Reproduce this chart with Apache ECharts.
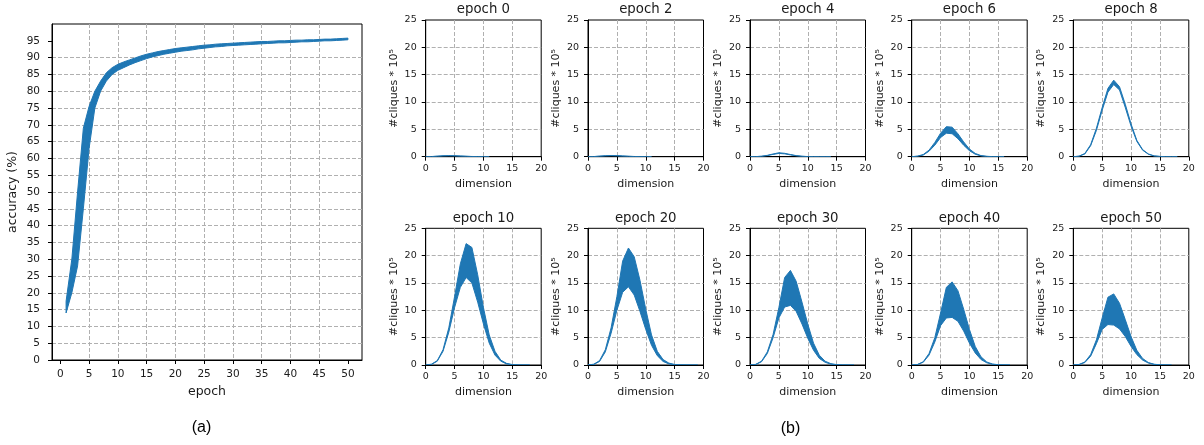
<!DOCTYPE html>
<html><head><meta charset="utf-8">
<script src="https://cdn.jsdelivr.net/npm/echarts@6.0.0/dist/echarts.min.js"></script>
<style>html,body{margin:0;padding:0;background:#fff}#c{width:1204px;height:445px}</style>
</head><body><div id="c"></div>
<script>
// ---------- panel (a): accuracy vs epoch ----------
const epochs = [1,2,3,4,5,6,7,8,9,10,11,12,13,14,15,16,17,18,19,20,21,22,23,24,25,26,27,28,29,30,31,32,33,34,35,36,37,38,39,40,41,42,43,44,45,46,47,48,49,50];
const accUpper = [17.5,30,50,69,75.5,80,83,85.5,87,88,88.7,89.3,89.9,90.5,91,91.4,91.8,92.1,92.4,92.7,92.9,93.1,93.3,93.5,93.7,93.8,94.0,94.1,94.2,94.3,94.4,94.5,94.6,94.7,94.8,94.8,94.9,95.0,95.0,95.1,95.2,95.2,95.3,95.3,95.4,95.5,95.5,95.6,95.7,95.8];
const accLower = [14,20,28,45,63,75,80,83,85,86.2,87,87.8,88.5,89.1,89.7,90.2,90.6,91,91.3,91.6,91.9,92.1,92.3,92.6,92.8,93.0,93.2,93.3,93.5,93.6,93.7,93.8,93.9,94.0,94.1,94.2,94.3,94.4,94.4,94.5,94.6,94.7,94.7,94.8,94.9,95.0,95.0,95.1,95.2,95.3];
const accXTicks = [0,5,10,15,20,25,30,35,40,45,50];
const accYTicks = [0,5,10,15,20,25,30,35,40,45,50,55,60,65,70,75,80,85,90,95];

// ---------- panel (b): cliques per dimension ----------
const cliqueTitles = ['epoch 0','epoch 2','epoch 4','epoch 6','epoch 8','epoch 10','epoch 20','epoch 30','epoch 40','epoch 50'];

const dims_e0 = [0,1,2,3,4,5,6,7,8,9,10,11];
const upper_e0 = [0,0.03,0.1,0.17,0.2,0.18,0.13,0.08,0.04,0.02,0.01,0];
const lower_e0 = [0,0.02,0.07,0.13,0.16,0.14,0.1,0.06,0.03,0.01,0,0];

const dims_e2 = [0,1,2,3,4,5,6,7,8,9,10,11];
const upper_e2 = [0,0.03,0.1,0.18,0.22,0.2,0.14,0.08,0.04,0.02,0.01,0];
const lower_e2 = [0,0.02,0.08,0.14,0.17,0.15,0.1,0.06,0.03,0.01,0,0];

const dims_e4 = [0,1,2,3,4,5,6,7,8,9,10,11,12,13,14];
const upper_e4 = [0,0.02,0.08,0.25,0.5,0.72,0.62,0.4,0.2,0.08,0.03,0.01,0,0,0];
const lower_e4 = [0,0.02,0.07,0.2,0.42,0.6,0.52,0.33,0.16,0.06,0.02,0.01,0,0,0];

const dims_e6 = [0,1,2,3,4,5,6,7,8,9,10,11,12,13,14,15,16];
const upper_e6 = [0,0.1,0.4,1.2,2.6,4.3,5.5,5.4,4.2,2.7,1.4,0.6,0.2,0.07,0.02,0,0];
const lower_e6 = [0,0.08,0.3,1.0,2.1,3.5,4.3,4.2,3.3,2.1,1.1,0.45,0.15,0.05,0.01,0,0];

const dims_e8 = [0,1,2,3,4,5,6,7,8,9,10,11,12,13,14,15,16,17,18];
const upper_e8 = [0,0.1,0.6,2.2,5.2,9.0,12.5,14.0,12.8,9.6,6.0,3.0,1.3,0.5,0.15,0.05,0.01,0,0];
const lower_e8 = [0,0.08,0.5,2.0,4.8,8.5,11.8,13.2,12.2,9.0,5.6,2.8,1.2,0.45,0.12,0.04,0.01,0,0];

const dims_e10 = [0,1,2,3,4,5,6,7,8,9,10,11,12,13,14,15,16,17,18];
const upper_e10 = [0,0.15,0.8,2.8,6.8,12.5,18.5,22.2,21.5,16.5,10.5,5.5,2.5,0.9,0.3,0.08,0.02,0,0];
const lower_e10 = [0,0.1,0.7,2.5,6.0,10.5,14.2,16.0,15.0,11.5,7.5,4.0,1.8,0.7,0.2,0.05,0.01,0,0];

const dims_e20 = [0,1,2,3,4,5,6,7,8,9,10,11,12,13,14,15,16,17,18,19];
const upper_e20 = [0,0.15,0.8,2.8,6.8,12.5,19.0,21.4,19.8,15.5,10.2,5.5,2.5,1.0,0.35,0.1,0.03,0.01,0,0];
const lower_e20 = [0,0.1,0.65,2.4,5.8,10.0,13.3,14.3,12.8,9.8,6.5,3.6,1.7,0.65,0.2,0.05,0.01,0,0,0];

const dims_e30 = [0,1,2,3,4,5,6,7,8,9,10,11,12,13,14,15,16,17,18];
const upper_e30 = [0,0.12,0.7,2.4,5.6,10.5,16.0,17.3,15.3,11.5,7.5,4.0,1.8,0.7,0.25,0.07,0.02,0,0];
const lower_e30 = [0,0.1,0.6,2.1,5.0,8.6,10.6,10.9,9.8,7.5,4.9,2.7,1.2,0.5,0.15,0.04,0.01,0,0];

const dims_e40 = [0,1,2,3,4,5,6,7,8,9,10,11,12,13,14,15,16,17];
const upper_e40 = [0,0.1,0.6,2.1,5.0,9.5,14.2,15.2,13.6,10.2,6.5,3.4,1.5,0.55,0.18,0.05,0.01,0];
const lower_e40 = [0,0.08,0.5,1.8,4.2,7.2,8.6,8.7,8.0,6.2,4.0,2.2,1.0,0.4,0.12,0.03,0.01,0];

const dims_e50 = [0,1,2,3,4,5,6,7,8,9,10,11,12,13,14,15,16,17];
const upper_e50 = [0,0.1,0.55,1.9,4.6,8.6,12.4,13.0,11.3,8.3,5.2,2.7,1.2,0.45,0.14,0.04,0.01,0];
const lower_e50 = [0,0.08,0.45,1.6,3.9,6.5,7.4,7.3,6.6,5.2,3.4,1.9,0.9,0.35,0.1,0.03,0.01,0];

const cliqueDims = [dims_e0,dims_e2,dims_e4,dims_e6,dims_e8,dims_e10,dims_e20,dims_e30,dims_e40,dims_e50];
const cliqueUpper = [upper_e0,upper_e2,upper_e4,upper_e6,upper_e8,upper_e10,upper_e20,upper_e30,upper_e40,upper_e50];
const cliqueLower = [lower_e0,lower_e2,lower_e4,lower_e6,lower_e8,lower_e10,lower_e20,lower_e30,lower_e40,lower_e50];

// ---------- build ----------
const FONT = 'DejaVu Sans';
const BLUE = '#1f77b4';
const TXT = '#1a1a1a';
const GRIDLINE = {show:true, showMinLine:false, showMaxLine:false, lineStyle:{color:'#b0b0b0', width:1, type:[4,2]}};
const grid = [], xAxis = [], yAxis = [], series = [], graphic = [];

// band = filled polygon between lower and upper, mapped through the axes with api.coord
function bandSeries(idx, xs, lo, hi) {
  series.push({
    type:'custom', xAxisIndex:idx, yAxisIndex:idx, silent:true, clip:true,
    data: xs.map((x,i)=>[x, lo[i], hi[i]]),
    encode:{x:0, y:[1,2]},
    renderItem: function (params, api) {
      if (params.dataIndex !== 0) return null;
      const up = xs.map((x,i)=>api.coord([x, hi[i]]));
      const dn = xs.map((x,i)=>api.coord([x, lo[i]])).reverse();
      return {type:'polygon', shape:{points:up.concat(dn)},
        style:{fill:BLUE, stroke:BLUE, lineWidth:1, lineJoin:'round'}};
    }
  });
}

// panel (a)
grid.push({left:52, top:24, width:310, height:336, show:true, borderColor:'#000', borderWidth:1, backgroundColor:'transparent'});
xAxis.push({type:'value', gridIndex:0, min:-1.45, max:52.45,
  name:'epoch', nameLocation:'middle', nameGap:31,
  nameTextStyle:{fontFamily:FONT, fontSize:12.5, color:TXT, verticalAlign:'middle'},
  axisLine:{onZero:false, lineStyle:{color:'#000', width:1}},
  axisTick:{customValues:accXTicks, length:4, lineStyle:{color:'#000'}},
  axisLabel:{customValues:accXTicks, fontFamily:FONT, fontSize:10.5, color:TXT, margin:9},
  splitLine:GRIDLINE});
yAxis.push({type:'value', gridIndex:0, min:0, max:100,
  name:'accuracy (%)', nameLocation:'middle', nameGap:39.5, nameRotate:90,
  nameTextStyle:{fontFamily:FONT, fontSize:12.5, color:TXT, verticalAlign:'middle'},
  axisLine:{onZero:false, lineStyle:{color:'#000', width:1}},
  axisTick:{customValues:accYTicks, length:4, lineStyle:{color:'#000'}},
  axisLabel:{customValues:accYTicks, fontFamily:FONT, fontSize:10.5, color:TXT, margin:12},
  splitLine:GRIDLINE});
bandSeries(0, epochs, accLower, accUpper);

// panel (b)
const subLefts = [425.7, 588, 750, 911.7, 1073.3];
const subTops = [20, 228.3];
const subW = 115.5, subH = 136.7;
for (let k = 0; k < 10; k++) {
  const gi = k + 1;
  const left = subLefts[k % 5], top = subTops[Math.floor(k / 5)];
  grid.push({left:left, top:top, width:subW, height:subH, show:true, borderColor:'#000', borderWidth:1, backgroundColor:'transparent'});
  xAxis.push({type:'value', gridIndex:gi, min:0, max:20, interval:5,
    name:'dimension', nameLocation:'middle', nameGap:27.5,
    nameTextStyle:{fontFamily:FONT, fontSize:11, color:TXT, verticalAlign:'middle'},
    axisLine:{onZero:false, lineStyle:{color:'#000', width:1}},
    axisTick:{length:4, lineStyle:{color:'#000'}},
    axisLabel:{fontFamily:FONT, fontSize:9.5, color:TXT, margin:7, showMinLabel:true, showMaxLabel:true},
    splitLine:GRIDLINE});
  yAxis.push({type:'value', gridIndex:gi, min:0, max:25, interval:5,
    name:'#cliques * 10⁵', nameLocation:'middle', nameGap:32, nameRotate:90,
    nameTextStyle:{fontFamily:FONT, fontSize:11, color:TXT, verticalAlign:'middle'},
    axisLine:{onZero:false, lineStyle:{color:'#000', width:1}},
    axisTick:{length:4, lineStyle:{color:'#000'}},
    axisLabel:{fontFamily:FONT, fontSize:9.5, color:TXT, margin:9},
    splitLine:GRIDLINE});
  bandSeries(gi, cliqueDims[k], cliqueLower[k], cliqueUpper[k]);
  graphic.push({type:'text', x:left + subW/2, y:top - 10,
    style:{text:cliqueTitles[k], font:'13.3px "DejaVu Sans"', fill:TXT, align:'center', verticalAlign:'middle'}});
}

graphic.push({type:'text', x:201.5, y:428, style:{text:'(a)', font:'16px "Liberation Sans"', fill:'#000', align:'center', verticalAlign:'middle'}});
graphic.push({type:'text', x:790.5, y:429, style:{text:'(b)', font:'16px "Liberation Sans"', fill:'#000', align:'center', verticalAlign:'middle'}});

const chart = echarts.init(document.getElementById('c'), null, {renderer:'canvas'});
chart.setOption({animation:false, backgroundColor:'#fff', grid, xAxis, yAxis, series, graphic});
</script>
</body></html>
